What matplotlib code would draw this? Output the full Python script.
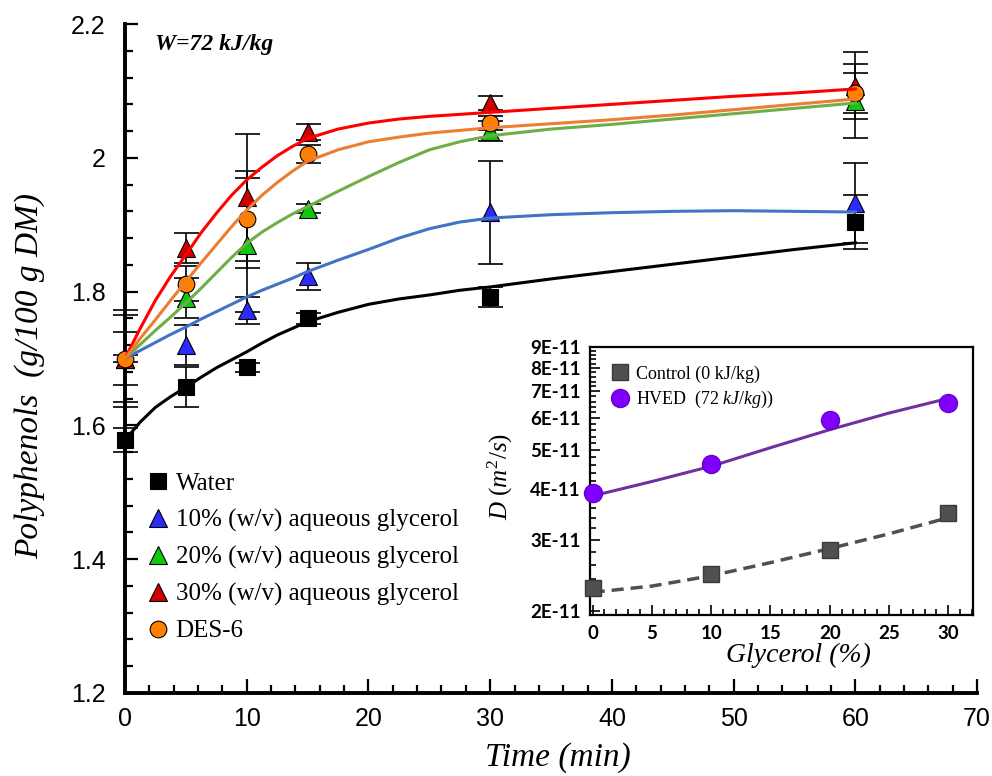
import matplotlib
matplotlib.use("Agg")
import matplotlib.pyplot as plt
from matplotlib.ticker import MultipleLocator, FixedLocator, NullFormatter

plt.rcParams['mathtext.fontset'] = 'custom'
plt.rcParams['mathtext.rm'] = 'Liberation Serif'
plt.rcParams['mathtext.it'] = 'Liberation Serif:italic'

# ---- main panel: polyphenols vs time ----
t_meas = [0, 5, 10, 15, 30, 60]
water = [1.578, 1.657, 1.687, 1.760, 1.792, 1.904]
water_err = [0.018, 0.03, 0.007, 0.008, 0.015, 0.04]
gly10 = [1.70, 1.720, 1.772, 1.823, 1.919, 1.932]
gly10_err = [0.065, 0.03, 0.02, 0.02, 0.077, 0.06]
gly20 = [1.70, 1.790, 1.870, 1.924, 2.040, 2.085]
gly20_err = [0.072, 0.03, 0.10, 0.007, 0.015, 0.055]
gly30 = [1.70, 1.865, 1.941, 2.039, 2.082, 2.108]
gly30_err = [0.04, 0.022, 0.095, 0.012, 0.01, 0.05]
des6 = [1.70, 1.812, 1.908, 2.006, 2.052, 2.097]
des6_err = [0.005, 0.026, 0.072, 0.013, 0.01, 0.03]

# fitted curves
t_fit = [0, 1.25, 2.5, 3.75, 5, 6.25, 7.5, 8.75, 10, 11.25, 12.5, 13.75, 15,
         17.5, 20, 22.5, 25, 27.5, 30, 35, 40, 45, 50, 55, 60]
water_fit = [1.578, 1.605, 1.627, 1.643, 1.657, 1.672, 1.686, 1.698, 1.710, 1.723, 1.735, 1.745, 1.755,
             1.769, 1.781, 1.789, 1.795, 1.802, 1.807, 1.819, 1.830, 1.841, 1.852, 1.863, 1.873]
gly10_fit = [1.70, 1.712, 1.724, 1.736, 1.747, 1.759, 1.770, 1.781, 1.792, 1.802, 1.811, 1.820, 1.830,
             1.847, 1.863, 1.880, 1.894, 1.904, 1.910, 1.915, 1.918, 1.920, 1.921, 1.920, 1.919]
gly20_fit = [1.70, 1.721, 1.742, 1.762, 1.783, 1.805, 1.828, 1.851, 1.872, 1.889, 1.903, 1.916, 1.927,
             1.950, 1.972, 1.993, 2.012, 2.024, 2.033, 2.043, 2.050, 2.058, 2.066, 2.074, 2.082]
gly30_fit = [1.70, 1.745, 1.787, 1.823, 1.855, 1.888, 1.917, 1.944, 1.967, 1.986, 2.003, 2.017, 2.029,
             2.043, 2.052, 2.058, 2.062, 2.065, 2.068, 2.074, 2.080, 2.086, 2.092, 2.097, 2.103]
des6_fit = [1.70, 1.730, 1.758, 1.787, 1.815, 1.843, 1.870, 1.897, 1.922, 1.944, 1.963, 1.980, 1.995,
            2.012, 2.024, 2.031, 2.037, 2.041, 2.045, 2.051, 2.057, 2.064, 2.072, 2.080, 2.088]

labels = ['Water', '10% (w/v) aqueous glycerol', '20% (w/v) aqueous glycerol',
          '30% (w/v) aqueous glycerol', 'DES-6']

# ---- inset: diffusion coefficient vs glycerol ----
glycerol = [0, 10, 20, 30]
control_D = [2.27e-11, 2.47e-11, 2.83e-11, 3.49e-11]
hved_D = [3.91e-11, 4.61e-11, 5.93e-11, 6.56e-11]
gly_fit = [0, 5, 10, 15, 20, 25, 30]
control_D_fit = [2.22e-11, 2.30e-11, 2.44e-11, 2.63e-11, 2.85e-11, 3.10e-11, 3.40e-11]
hved_D_fit = [3.85e-11, 4.18e-11, 4.56e-11, 5.07e-11, 5.62e-11, 6.18e-11, 6.72e-11]
D_ticks = [2e-11, 3e-11, 4e-11, 5e-11, 6e-11, 7e-11, 8e-11, 9e-11]
D_ticklabels = ['2E-11', '3E-11', '4E-11', '5E-11', '6E-11', '7E-11', '8E-11', '9E-11']

serif = 'Liberation Serif'

fig = plt.figure(figsize=(9.92, 7.76), dpi=100)
ax = fig.add_axes([0.126, 0.107, 0.859, 0.862])

series = [
    (water, water_err, water_fit, 's', 'black', 'black', 11),
    (gly10, gly10_err, gly10_fit, '^', '#2b2bff', '#4472c4', 13),
    (gly20, gly20_err, gly20_fit, '^', '#11c811', '#70ad47', 13),
    (gly30, gly30_err, gly30_fit, '^', '#cc0000', '#ff0000', 13),
    (des6, des6_err, des6_fit, 'o', '#ff8000', '#ed7d31', 12),
]
handles = []
for (y, err, yfit, mk, mcol, lcol, ms), lab in zip(series, labels):
    ax.errorbar(t_meas, y, yerr=err, fmt='none', ecolor='black', elinewidth=1.2,
                capsize=9, capthick=1.2, zorder=2, clip_on=False)
    h, = ax.plot(t_meas, y, linestyle='none', marker=mk, markersize=ms,
                 markerfacecolor=mcol, markeredgecolor='black', markeredgewidth=0.8,
                 zorder=3, clip_on=False, label=lab)
    handles.append(h)
    ax.plot(t_fit, yfit, color=lcol, linewidth=2.2, zorder=4)

ax.set_xlim(0, 70)
ax.set_ylim(1.2, 2.2)
ax.spines['top'].set_visible(False)
ax.spines['right'].set_visible(False)
ax.spines['left'].set_linewidth(2.8)
ax.spines['bottom'].set_linewidth(2.8)
ax.xaxis.set_major_locator(MultipleLocator(10))
ax.xaxis.set_minor_locator(MultipleLocator(2))
ax.yaxis.set_major_locator(MultipleLocator(0.2))
ax.yaxis.set_minor_locator(MultipleLocator(0.04))
ax.yaxis.set_major_formatter(matplotlib.ticker.FuncFormatter(lambda v, p: ('%.1f' % v).rstrip('0').rstrip('.')))
ax.tick_params(which='both', direction='in', width=1.6, labelsize=18)
ax.tick_params(axis='y', which='major', length=9, pad=14)
ax.tick_params(axis='y', which='minor', length=6)
ax.tick_params(axis='x', which='major', length=10, pad=10)
ax.tick_params(axis='x', which='minor', length=5.5)
for lab in ax.get_xticklabels() + ax.get_yticklabels():
    lab.set_fontfamily('Liberation Sans')

leg = ax.legend(handles=handles, loc='upper left', bbox_to_anchor=(0.014, 0.345),
                frameon=False, prop={'family': serif, 'size': 18},
                handlelength=0.9, handletextpad=0.25, labelspacing=0.56, borderaxespad=0)

fig.text(0.156, 1 - 50 / 776, 'W=72 kJ/kg', fontsize=17, fontfamily=serif,
         fontweight='bold', fontstyle='italic', va='baseline')
fig.text(30 / 992, 1 - 376 / 776, 'Polyphenols  (g/100 g DM)', rotation=90,
         fontsize=24, fontfamily=serif, fontstyle='italic', ha='center', va='center')
fig.text(558 / 992, 10 / 776, 'Time (min)', fontsize=24, fontfamily=serif,
         fontstyle='italic', ha='center', va='baseline')

# ---- inset ----
ins = fig.add_axes([0.595, 0.2075, 0.386, 0.345])
ins.plot(gly_fit, control_D_fit, color='#505050', linewidth=2.5, linestyle=(0, (3.5, 2)), zorder=2)
ins.plot(gly_fit, hved_D_fit, color='#7030a0', linewidth=2.2, zorder=2)
hc, = ins.plot(glycerol, control_D, linestyle='none', marker='s', markersize=12,
               markerfacecolor='#505050', markeredgecolor='#3a3a3a', zorder=3,
               clip_on=False, label='Control (0 kJ/kg)')
hh, = ins.plot(glycerol, hved_D, linestyle='none', marker='o', markersize=13,
               markerfacecolor='#8000ff', markeredgecolor='#6a00cc', zorder=3,
               clip_on=False, label=r'HVED  $\mathit{(72\ kJ/kg)}$)')
ins.set_yscale('log')
ins.set_xlim(-0.2, 32.1)
ins.set_ylim(1.95e-11, 9.0e-11)
ins.yaxis.set_major_locator(FixedLocator(D_ticks))
ins.yaxis.set_ticklabels(D_ticklabels)
ins.yaxis.set_minor_locator(FixedLocator([v * 1e-11 for v in
                                          [2.2, 2.4, 2.6, 2.8, 3.2, 3.4, 3.6, 3.8, 4.2, 4.4, 4.6, 4.8,
                                           5.2, 5.4, 5.6, 5.8, 6.2, 6.4, 6.6, 6.8, 7.2, 7.4, 7.6, 7.8,
                                           8.2, 8.4, 8.6, 8.8]]))
ins.yaxis.set_minor_formatter(NullFormatter())
ins.xaxis.set_major_locator(MultipleLocator(5))
ins.xaxis.set_minor_locator(MultipleLocator(1))
for s in ins.spines.values():
    s.set_linewidth(1.6)
ins.tick_params(which='both', direction='in', width=1.2, labelsize=13.5)
ins.tick_params(which='major', length=7, pad=7)
ins.tick_params(which='minor', length=4)
for lab in ins.get_xticklabels() + ins.get_yticklabels():
    lab.set_fontfamily('Lato')
    lab.set_fontweight('bold')
ins.legend(handles=[hc, hh], loc='upper left', bbox_to_anchor=(0.04, 0.96), frameon=False,
           prop={'family': serif, 'size': 13}, handlelength=0.8, handletextpad=0.5,
           labelspacing=0.35, borderaxespad=0)
fig.text(500 / 992, 1 - 477 / 776, r'$D\ (m^{2}/s)$', rotation=90, fontsize=18,
         ha='center', va='center')
fig.text(798 / 992, 1 - 662 / 776, 'Glycerol (%)', fontsize=20, fontfamily=serif,
         fontstyle='italic', ha='center', va='baseline')

fig.savefig('out.png', dpi=100)
